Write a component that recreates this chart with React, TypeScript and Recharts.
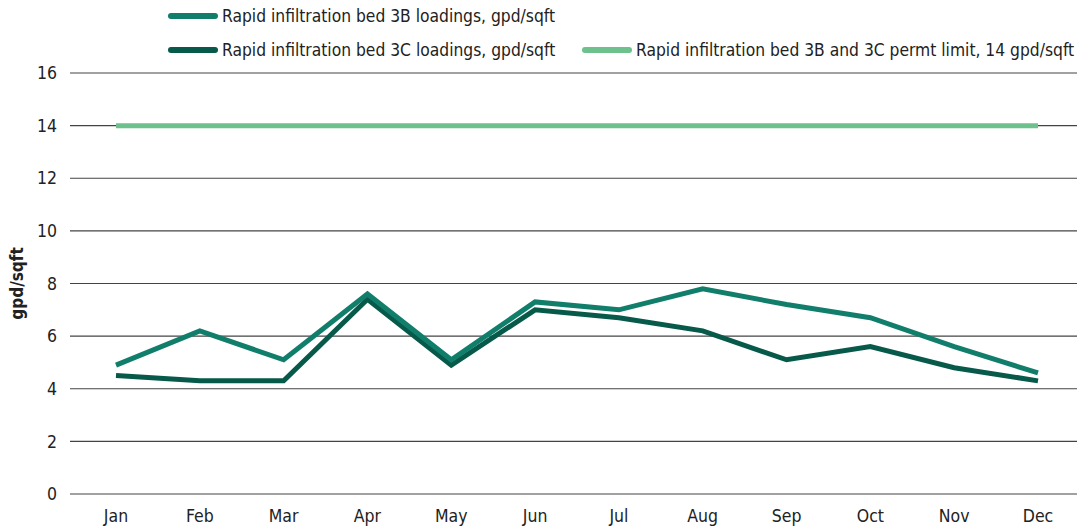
import {
    CartesianGrid,
    Legend,
    Line,
    LineChart,
    XAxis,
    YAxis
} from "recharts";

const months = ["Jan", "Feb", "Mar", "Apr", "May", "Jun", "Jul", "Aug", "Sep", "Oct", "Nov", "Dec"];
const bed3B = [4.9, 6.2, 5.1, 7.6, 5.1, 7.3, 7.0, 7.8, 7.2, 6.7, 5.6, 4.6];
const bed3C = [4.5, 4.3, 4.3, 7.4, 4.9, 7.0, 6.7, 6.2, 5.1, 5.6, 4.8, 4.3];
const permitLimit = [14, 14, 14, 14, 14, 14, 14, 14, 14, 14, 14, 14];
const yTicks = [0, 2, 4, 6, 8, 10, 12, 14, 16];

const data = months.map((month, i) => ({
    month,
    bed3B: bed3B[i],
    bed3C: bed3C[i],
    limit: permitLimit[i]
}));

const FONT = "'Liberation Sans Narrow', 'DejaVu Sans Condensed', 'Roboto', sans-serif";

const legendItems = [
    {label: "Rapid infiltration bed 3B loadings, gpd/sqft", color: "#117e6b", left: 168, top: 6},
    {label: "Rapid infiltration bed 3C loadings, gpd/sqft", color: "#07594a", left: 168, top: 40},
    {label: "Rapid infiltration bed 3B and 3C permt limit, 14 gpd/sqft", color: "#6cc18d", left: 582, top: 40}
];

const ChartLegend = () => (
    <div style={{position: "relative", width: 1077, height: 60}}>
        {legendItems.map((item) => (
            <div
                key={item.label}
                style={{
                    position: "absolute",
                    left: item.left,
                    top: item.top,
                    display: "flex",
                    alignItems: "center",
                    fontFamily: FONT,
                    fontSize: 17.3,
                    color: "#222",
                    whiteSpace: "nowrap"
                }}
            >
                <span style={{display: "inline-block", width: 50, height: 6, borderRadius: 3, background: item.color, marginRight: 4}}/>
                {item.label}
            </div>
        ))}
    </div>
);

const App = () => {
    return (
        <div style={{position: "absolute", left: 0, top: 0, background: "#fff"}}>
            <LineChart width={1077} height={531} data={data} margin={{top: 13, right: 0, left: 0, bottom: 7}}>
                <Legend verticalAlign="top" align="left" content={() => <ChartLegend/>} wrapperStyle={{top: 0, left: 0}}/>
                <CartesianGrid vertical={false} stroke="#444" strokeWidth={1.2}/>
                <XAxis
                    dataKey="month"
                    axisLine={false}
                    tickLine={false}
                    height={30}
                    tickMargin={10}
                    padding={{left: 46, right: 39}}
                    tick={{fill: "#222", fontSize: 17.5, fontFamily: FONT}}
                />
                <YAxis
                    domain={[0, 16]}
                    ticks={yTicks}
                    width={70}
                    axisLine={false}
                    tickLine={false}
                    tickSize={0}
                    tickMargin={13}
                    tick={{fill: "#222", fontSize: 17.5, fontFamily: FONT}}
                    label={{
                        value: "gpd/sqft",
                        angle: -90,
                        position: "insideLeft",
                        offset: 17,
                        style: {textAnchor: "middle", fill: "#222", fontSize: 17, fontWeight: "bold", fontFamily: FONT}
                    }}
                />
                <Line type="linear" dataKey="limit" stroke="#6cc18d" strokeWidth={5} dot={false} isAnimationActive={false}/>
                <Line type="linear" dataKey="bed3C" stroke="#07594a" strokeWidth={5} dot={false} isAnimationActive={false}/>
                <Line type="linear" dataKey="bed3B" stroke="#117e6b" strokeWidth={5} dot={false} isAnimationActive={false}/>
            </LineChart>
        </div>
    );
};

export default App;
